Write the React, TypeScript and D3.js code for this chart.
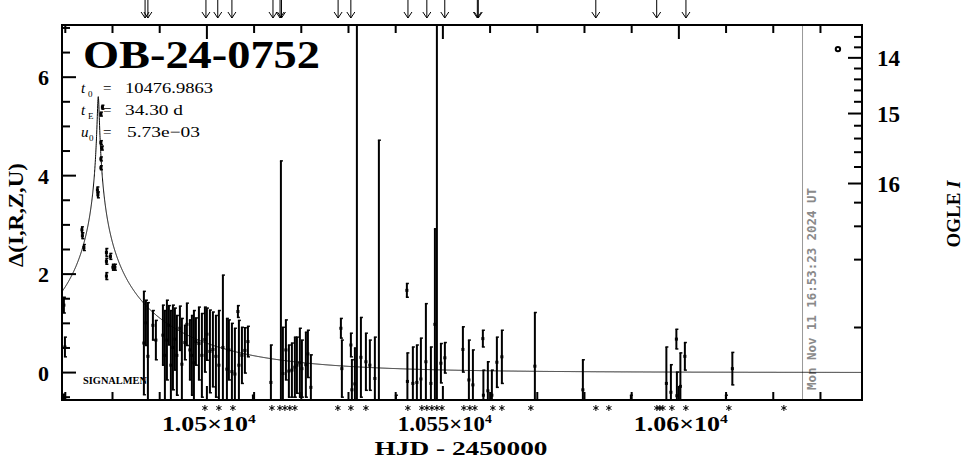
import React from 'react';
import * as d3 from 'd3';

// ---------- data ----------
const EVENT_NAME = 'OB-24-0752';
const T0 = 10476.9863;
const TE = 34.3;
const U0 = 5.73e-3;
const I_BASE = 16.85;
const F_SOURCE = 0.0356;

const X_DOMAIN = [10469.3, 10638.8];
const Y_DOMAIN = [-0.557, 7.06];

const X_MAJOR = [10500, 10550, 10600];
const X_MAJOR_LABELS = ['1.05', '1.055', '1.06'];
const Y_MAJOR = [0, 2, 4, 6];
const MAG_MAJOR = [14, 15, 16];

// OGLE points near the peak (HJD-2450000, delta, error)
const ogleT = [10469.70, 10469.92, 10469.70, 10473.52, 10473.62, 10473.94, 10476.80, 10476.91, 10477.54, 10477.75, 10477.54, 10477.54, 10477.54, 10477.86, 10478.71, 10478.71, 10478.71, 10479.56, 10480.08, 10480.51];
const ogleD = [1.37, 0.52, -0.52, 2.90, 2.78, 2.54, 3.71, 3.61, 4.67, 4.56, 4.34, 4.16, 5.25, 5.39, 2.44, 2.26, 1.96, 2.36, 2.14, 2.14];
const ogleE = [0.16, 0.20, 0.08, 0.06, 0.06, 0.06, 0.06, 0.06, 0.04, 0.04, 0.04, 0.04, 0.04, 0.04, 0.08, 0.06, 0.07, 0.06, 0.06, 0.06];

// other survey points with large errors
const survT = [
  10486.65, 10487.08, 10487.50, 10488.56, 10489.19, 10490.68, 10491.10, 10491.53, 10491.95, 10492.37,
  10492.80, 10493.22, 10493.64, 10494.28, 10494.70, 10495.34, 10495.76, 10496.40, 10496.82, 10497.25,
  10497.67, 10498.31, 10498.94, 10499.58, 10500.00, 10500.64, 10501.27, 10501.91, 10502.54, 10503.39,
  10504.24, 10504.66, 10505.30, 10505.93, 10506.57, 10506.78, 10507.42, 10508.05, 10508.69, 10509.75,
  10513.56, 10515.68, 10516.10, 10516.74, 10517.37, 10518.01, 10518.64, 10519.07, 10519.70, 10520.13,
  10520.97, 10521.40, 10522.03,
  10528.39, 10528.60, 10530.51, 10530.72, 10531.36, 10531.78, 10532.63, 10533.69, 10534.53, 10535.59,
  10536.44, 10540.04,
  10542.37, 10542.48, 10543.64, 10544.49, 10545.34, 10546.40, 10547.46, 10548.31, 10548.73, 10549.58,
  10550.42,
  10554.24, 10555.51, 10556.36, 10558.47, 10558.58, 10559.53, 10560.38, 10561.44, 10562.50,
  10569.49, 10579.66, 10589.83,
  10597.35, 10598.31, 10599.47, 10599.58, 10600.32, 10601.27, 10609.96, 10611.33,
];
const survD = [
  0.60, 1.01, 0.33, 0.96, 0.66, 0.76, 0.35, 0.66, 0.96, 0.15,
  0.51, 0.68, 0.35, 0.90, 0.17, 0.61, 0.98, 0.46, 0.35, 0.20,
  0.63, 0.59, 0.35, 0.67, 0.78, 0.43, 0.47, 0.33, 0.15, 0.51,
  0.07, 0.46, 0.02, -0.03, 1.24, 0.15, 0.35, 0.45, 0.63, -0.71,
  -0.20, 1.67, -0.02, 0.46, 0.03, 0.05, 0.11, 0.15, 0.20, 0.08,
  0.16, 0.38, -0.30,
  0.90, 0.08, 0.56, -0.35, -0.23, 3.50, 0.31, 0.22, 0.15, -0.12,
  1.88, -0.71,
  1.67, -0.18, -0.22, -0.20, -0.13, 0.22, -0.22, 0.98, 3.50, 0.19,
  0.30,
  0.47, -0.15, -0.25, 0.69, -0.46, -0.37, -0.46, 0.21, 0.32,
  0.13, -0.35, -0.71,
  -0.22, -0.40, 0.68, -0.47, -0.28, 0.33, -0.71, 0.08,
];
const survE = [
  1.05, 0.46, 1.09, 0.30, 0.40, 0.61, 0.91, 0.81, 0.40, 1.11,
  0.86, 0.63, 0.81, 0.45, 0.93, 0.35, 0.43, 0.61, 0.81, 1.06,
  0.48, 0.74, 0.85, 0.66, 0.53, 0.84, 0.76, 0.83, 1.11, 1.47,
  1.03, 0.61, 0.98, 0.93, 0.12, 0.91, 0.57, 0.46, 0.31, 0.25,
  0.76, 2.63, 0.94, 0.61, 0.53, 0.55, 0.61, 0.57, 0.70, 0.58,
  0.66, 0.48, 0.66,
  0.20, 0.58, 0.24, 0.61, 0.73, 5.00, 0.81, 0.58, 0.51, 0.84,
  2.84, 0.25,
  0.14, 0.58, 0.74, 0.76, 0.83, 1.18, 0.74, 1.94, 5.00, 0.40,
  0.31,
  0.46, 0.81, 0.71, 0.17, 0.51, 0.59, 0.51, 0.51, 0.54,
  1.09, 0.61, 0.25,
  0.74, 0.56, 0.20, 0.48, 0.68, 0.28, 0.25, 0.33,
];

// follow-up marks
const arrowT = [10486.9, 10487.5, 10499.8, 10502.3, 10505.3, 10514.0, 10515.5, 10515.8, 10527.8, 10530.5, 10542.6, 10546.6, 10550.4, 10557.3, 10557.5, 10582.4, 10595.3, 10601.5];
const starT = [10499.58, 10502.54, 10505.51, 10513.77, 10515.47, 10516.53, 10517.58, 10518.64, 10527.75, 10530.51, 10533.69, 10542.58, 10545.55, 10546.61, 10547.67, 10548.73, 10549.79, 10554.45, 10555.72, 10556.78, 10560.59, 10562.50, 10568.64, 10582.42, 10585.17, 10595.34, 10595.97, 10596.61, 10598.52, 10601.48, 10610.59, 10622.25];

const lastT = 10633.7;
const lastD = 6.57;
const NOW_T = 10626.2;
const NOW_LABEL = 'Mon Nov 11 16:53:23 2024 UT';

// ---------- layout ----------
const W = 965;
const H = 459;
const L = 62, R = 862, T = 25, B = 400;
const SERIF = '"Liberation Serif", "DejaVu Serif", serif';

export default function App() {
  const x = d3.scaleLinear().domain(X_DOMAIN).range([L, R]);
  const y = d3.scaleLinear().domain(Y_DOMAIN).range([B, T]);
  const magToDelta = (m: number) =>
    2.5 * Math.log10(1 + (Math.pow(10, 0.4 * (I_BASE - m)) - 1) / F_SOURCE);
  const model = (t: number) => {
    const u = Math.hypot(U0, (t - T0) / TE);
    const A = (u * u + 2) / (u * Math.sqrt(u * u + 4));
    return 2.5 * Math.log10(A);
  };
  const ts = d3.range(X_DOMAIN[0], X_DOMAIN[1], 0.02).concat([T0]).sort((a, b) => a - b);
  const line = d3.line<number>().x((t) => x(t)).y((t) => y(model(t)));

  const xMinor = d3.range(10470, 10640, 10);
  const yMinor = d3.range(-0.5, 7.01, 0.5);
  const magTicks = d3.range(13.6, 16.81, 0.2).map((m) => Math.round(m * 10) / 10);

  const bars = (tArr: number[], dArr: number[], eArr: number[], key: string) =>
    tArr.map((t, i) => {
      const cx = x(t);
      const yt = y(dArr[i] + eArr[i]);
      const yb = y(dArr[i] - eArr[i]);
      const yc = y(dArr[i]);
      return (
        <g key={key + i}>
          <line x1={cx} x2={cx} y1={yt} y2={yb} stroke="#000" strokeWidth={2} />
          <line x1={cx - 1} x2={cx + 2} y1={yt} y2={yt} stroke="#000" strokeWidth={1.5} />
          <line x1={cx - 1} x2={cx + 2} y1={yb} y2={yb} stroke="#000" strokeWidth={1.5} />
          {eArr[i] < 2 && <rect x={cx - 1.5} y={yc - 1.5} width={3} height={3} fill="#000" />}
        </g>
      );
    });

  return (
    <svg width={W} height={H} style={{ position: 'absolute', left: 0, top: 0, background: '#fff' }}
      fontFamily={SERIF}>
      <rect x={0} y={0} width={W} height={H} fill="#fff" />
      <defs>
        <clipPath id="plot">
          <rect x={L} y={T} width={R - L} height={B - T} />
        </clipPath>
      </defs>

      {/* now line */}
      <line x1={x(NOW_T)} x2={x(NOW_T)} y1={T} y2={B} stroke="#999" strokeWidth={1} />
      <text transform={`translate(${x(NOW_T) + 13},390) rotate(-90)`} fontFamily='"DejaVu Sans Mono", monospace'
        fontWeight="bold" fontSize={12.5} fill="#8a8a8a" textLength={202} lengthAdjust="spacingAndGlyphs">
        {NOW_LABEL}
      </text>

      {/* data */}
      <g clipPath="url(#plot)">
        <path d={line(ts) || ''} fill="none" stroke="#000" strokeWidth={1} />
        {bars(survT, survD, survE, 's')}
        {bars(ogleT, ogleD, ogleE, 'o')}
        <circle cx={x(lastT)} cy={y(lastD)} r={2.2} fill="none" stroke="#000" strokeWidth={2} />
      </g>

      {/* frame */}
      <rect x={L} y={T} width={R - L} height={B - T} fill="none" stroke="#000" strokeWidth={2} />

      {/* x ticks top & bottom */}
      {xMinor.map((t) => {
        const major = X_MAJOR.includes(t);
        const len = major ? 14 : 8;
        return (
          <g key={'xt' + t}>
            <line x1={x(t)} x2={x(t)} y1={T} y2={T + len} stroke="#000" strokeWidth={2} />
            <line x1={x(t)} x2={x(t)} y1={B} y2={B - len} stroke="#000" strokeWidth={2} />
          </g>
        );
      })}
      {X_MAJOR.map((t, i) => (
        <text key={'xl' + t} x={x(t) - 45} y={431} fontSize={20} fontWeight="bold"
          textLength={94} lengthAdjust="spacingAndGlyphs">
          {X_MAJOR_LABELS[i]}×10<tspan dy={-8} fontSize={12}>4</tspan>
        </text>
      ))}
      <text x={461} y={455} textAnchor="middle" fontSize={19} fontWeight="bold"
        textLength={173} lengthAdjust="spacingAndGlyphs">HJD - 2450000</text>

      {/* left y ticks */}
      {yMinor.map((v) => {
        const major = Y_MAJOR.includes(Math.round(v * 10) / 10);
        return <line key={'yt' + v} x1={L} x2={L + (major ? 14 : 8)} y1={y(v)} y2={y(v)} stroke="#000" strokeWidth={2} />;
      })}
      {Y_MAJOR.map((v) => (
        <text key={'yl' + v} x={49} y={y(v) + 8} textAnchor="end" fontSize={22} fontWeight="bold">{v}</text>
      ))}
      <text transform="translate(23,215) rotate(-90)" textAnchor="middle" fontSize={20} fontWeight="bold"
        textLength={104} lengthAdjust="spacingAndGlyphs">Δ(I,R,Z,U)</text>

      {/* right magnitude axis */}
      {magTicks.map((m) => {
        const major = MAG_MAJOR.includes(m);
        const yy = y(magToDelta(m));
        return <line key={'mt' + m} x1={R} x2={R - (major ? 14 : 8)} y1={yy} y2={yy} stroke="#000" strokeWidth={2} />;
      })}
      {MAG_MAJOR.map((m) => (
        <text key={'ml' + m} x={877} y={y(magToDelta(m)) + 8} fontSize={23} fontWeight="bold">{m}</text>
      ))}
      <text transform="translate(960,214) rotate(-90)" textAnchor="middle" fontSize={19} fontWeight="bold">
        OGLE <tspan fontStyle="italic">I</tspan>
      </text>

      {/* arrows on top */}
      {arrowT.map((t, i) => {
        const ax = x(t);
        return (
          <g key={'ar' + i} stroke="#000" strokeWidth={1} fill="none">
            <line x1={ax} x2={ax} y1={0} y2={18} />
            <path d={`M${ax - 4},12 L${ax},18 L${ax + 4},12`} />
          </g>
        );
      })}

      {/* stars below */}
      {starT.map((t, i) => {
        const sx = x(t);
        const sy = 408;
        return (
          <path key={'st' + i} d={`M${sx},${sy - 3}L${sx},${sy + 3}M${sx - 2.6},${sy - 1.5}L${sx + 2.6},${sy + 1.5}M${sx - 2.6},${sy + 1.5}L${sx + 2.6},${sy - 1.5}`}
            stroke="#000" strokeWidth={1} fill="none" />
        );
      })}

      {/* title & params */}
      <text x={83} y={68} fontSize={39} fontWeight="bold" textLength={237} lengthAdjust="spacingAndGlyphs">{EVENT_NAME}</text>
      <g fontSize={15}>
        <text x={81} y={93} fontStyle="italic">t</text>
        <text x={88} y={97} fontSize={9}>0</text>
        <text x={103} y={93}>=</text>
        <text x={125} y={93} textLength={88} lengthAdjust="spacingAndGlyphs">{T0.toFixed(4)}</text>

        <text x={81} y={115} fontStyle="italic">t</text>
        <text x={88} y={119} fontSize={9}>E</text>
        <text x={103} y={115}>=</text>
        <text x={125} y={115} textLength={58} lengthAdjust="spacingAndGlyphs">{TE.toFixed(2)} d</text>

        <text x={81} y={137} fontStyle="italic">u</text>
        <text x={89} y={141} fontSize={9}>0</text>
        <text x={103} y={137}>=</text>
        <text x={127} y={137} textLength={73} lengthAdjust="spacingAndGlyphs">5.73e−03</text>
      </g>
      <text x={83} y={384} fontSize={9.5} fontWeight="bold" textLength={64} lengthAdjust="spacingAndGlyphs">SIGNALMEN</text>
    </svg>
  );
}
